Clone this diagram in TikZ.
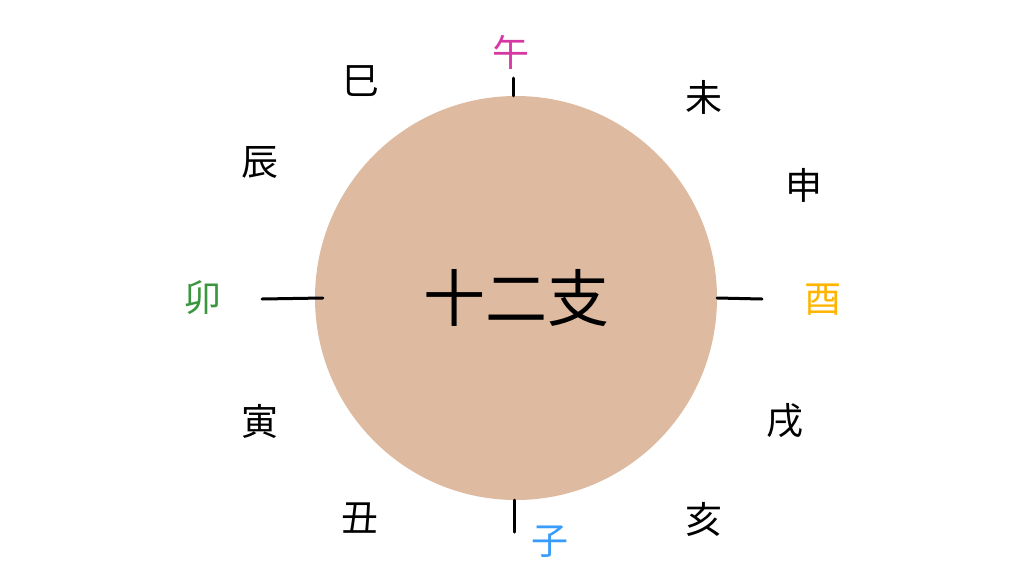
\documentclass[tikz,border=0pt]{standalone}
\usepackage{fontspec}
\setmainfont{Noto Sans CJK JP}
\usepackage{tikz}
\usetikzlibrary{shapes.geometric}
\definecolor{discfill}{RGB}{222,186,160}
\definecolor{wucol}{RGB}{214,56,164}
\definecolor{zicol}{RGB}{58,156,250}
\definecolor{maocol}{RGB}{58,150,62}
\definecolor{youcol}{RGB}{255,180,0}
\newcommand{\WU}[1]{\textcolor{wucol}{#1}}
\newcommand{\ZI}[1]{\textcolor{zicol}{#1}}
\newcommand{\MAO}[1]{\textcolor{maocol}{#1}}
\newcommand{\YOU}[1]{\textcolor{youcol}{#1}}

\begin{document}
\begin{tikzpicture}[x=1pt, y=-1pt,
    sign/.style={inner sep=0pt, font=\fontsize{37}{40}\selectfont},
    tick/.style={line width=3pt, line cap=round}]

  \useasboundingbox (0,0) rectangle (1024,576);

  \node[ellipse, fill=discfill, minimum width=402pt, minimum height=404pt,
        inner sep=0pt, font=\fontsize{62}{66}\selectfont] (disc) at (516,298) {十二支};

  \node[sign] (wu)   at (511, 52) {\WU{午}};
  \node[sign] (wei)  at (704, 97) {未};
  \node[sign] (shen) at (804,185) {申};
  \node[sign] (you)  at (823,300) {\YOU{酉}};
  \node[sign] (xu)   at (785,421) {戌};
  \node[sign] (hai)  at (704,519) {亥};
  \node[sign] (zi)   at (550,542) {\ZI{子}};
  \node[sign] (chou) at (360,518) {丑};
  \node[sign] (yin)  at (260,421) {寅};
  \node[sign] (mao)  at (203,298) {\MAO{卯}};
  \node[sign] (chen) at (260,162) {辰};
  \node[sign] (si)   at (361, 81) {巳};

  \coordinate (wutick)  at (513, 78);
  \coordinate (zitick)  at (514,532);
  \coordinate (maotick) at (262,299);
  \coordinate (youtick) at (762,299);

  \draw[tick] (disc.north -| wutick) -- (wutick); %% top
  \draw[tick] ([xshift=-2pt]disc.south) -- (zitick); %% bottom
  \draw[tick] ([xshift=8pt]disc.west) -- (maotick); %% left
  \draw[tick] (disc.east) -- (youtick); %% right
\end{tikzpicture}
\end{document}
